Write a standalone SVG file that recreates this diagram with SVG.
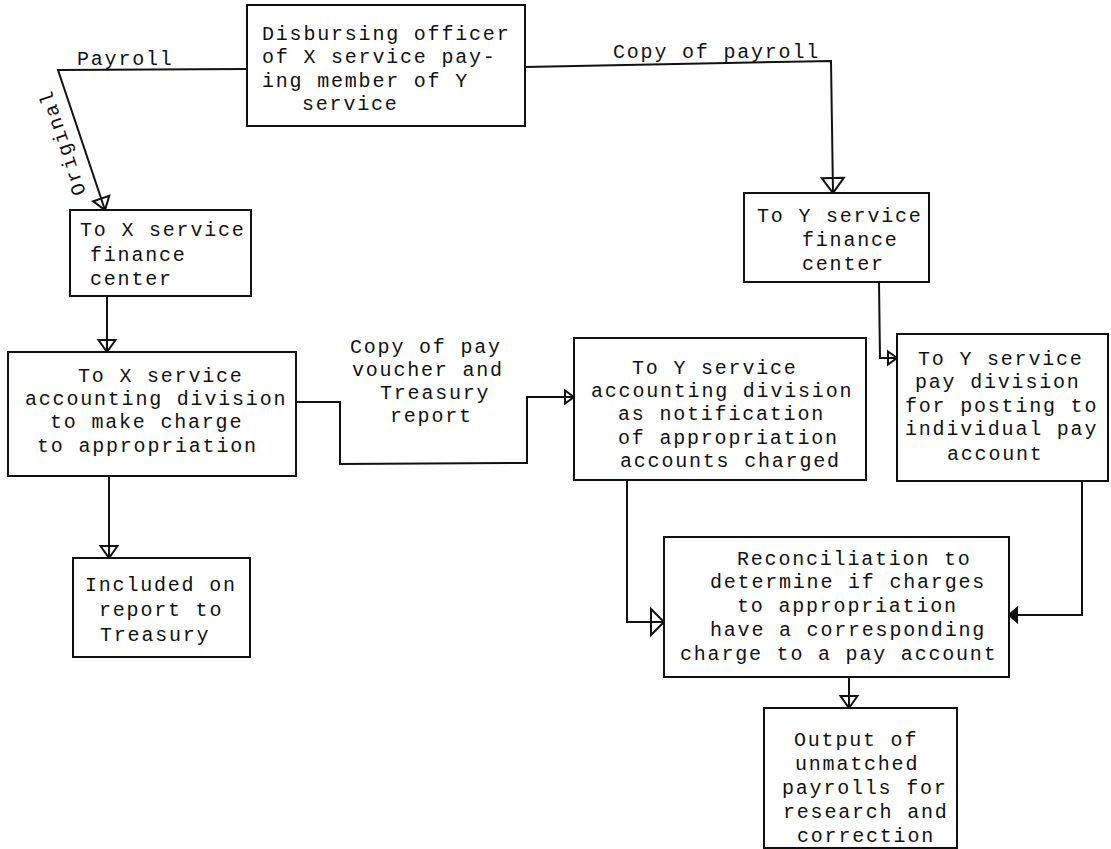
<svg xmlns="http://www.w3.org/2000/svg" width="1111" height="849" viewBox="0 0 1111 849">
<style>
.box{fill:#fff;stroke:#111;stroke-width:2}
.t{font-family:"Liberation Mono","Courier New",monospace;font-size:20px;letter-spacing:1.8px;fill:#111}
.c{fill:none;stroke:#111;stroke-width:2}
.ah{fill:none;stroke:#111;stroke-width:2;stroke-linejoin:miter}
</style>
<defs>
<marker id="mBig" markerUnits="userSpaceOnUse" markerWidth="30" markerHeight="30" refX="0" refY="0" orient="auto" style="overflow:visible"><path class="ah" d="M-15,-11 L0,0 L-15,11 Z"/></marker>
<marker id="mMed" markerUnits="userSpaceOnUse" markerWidth="30" markerHeight="30" refX="0" refY="0" orient="auto" style="overflow:visible"><path class="ah" d="M-12,-8.5 L0,0 L-12,8.5 Z"/></marker>
<marker id="mTall" markerUnits="userSpaceOnUse" markerWidth="30" markerHeight="30" refX="0" refY="0" orient="auto" style="overflow:visible"><path class="ah" d="M-13,-13 L0,0 L-13,13 Z"/></marker>
<marker id="mSmall" markerUnits="userSpaceOnUse" markerWidth="30" markerHeight="30" refX="0" refY="0" orient="auto" style="overflow:visible"><path class="ah" d="M-9,-6.5 L0,0 L-9,6.5 Z"/></marker>
<marker id="mSmallF" markerUnits="userSpaceOnUse" markerWidth="30" markerHeight="30" refX="0" refY="0" orient="auto" style="overflow:visible"><path d="M-8,-7 L0,0 L-8,7 Z" fill="#111" stroke="#111" stroke-width="2"/></marker>
</defs>
<rect width="1111" height="849" fill="#fff"/>
<g id="connectors">
<path class="c" d="M247,69 L58,70 L105,210" marker-end="url(#mMed)"/>
<path class="c" d="M525,67 L831,61 L833,193" marker-end="url(#mBig)"/>
<path class="c" d="M107,296 L107,352" marker-end="url(#mMed)"/>
<path class="c" d="M109,476 L109,558" marker-end="url(#mMed)"/>
<path class="c" d="M296,402 L340,402 L340,464 L527,463 L527,397 L574,397" marker-end="url(#mSmall)"/>
<path class="c" d="M879,282 L880,358 L897,358" marker-end="url(#mSmall)"/>
<path class="c" d="M627,480 L627,622 L664,622" marker-end="url(#mTall)"/>
<path class="c" d="M1082,481 L1082,615 L1009,615" marker-end="url(#mSmallF)"/>
<path class="c" d="M849,677 L849,708" marker-end="url(#mMed)"/>
<text class="t" x="77" y="65">Payroll</text>
<text class="t" x="613" y="58">Copy of payroll</text>
<text class="t" transform="translate(86,193) rotate(-108.5)">Original</text>
<text class="t" x="350" y="353">Copy of pay</text>
<text class="t" x="352" y="376">voucher and</text>
<text class="t" x="380" y="399">Treasury</text>
<text class="t" x="390" y="422">report</text>
</g>
<g id="disbursing">
<rect class="box" x="247" y="5" width="278" height="121"/>
<text class="t" x="262" y="40">Disbursing officer</text>
<text class="t" x="262" y="63">of X service pay-</text>
<text class="t" x="262" y="87">ing member of Y</text>
<text class="t" x="302" y="110">service</text>
</g>
<g id="x-finance">
<rect class="box" x="70" y="210" width="181" height="86"/>
<text class="t" x="80" y="236">To X service</text>
<text class="t" x="90" y="261">finance</text>
<text class="t" x="90" y="285">center</text>
</g>
<g id="y-finance">
<rect class="box" x="744" y="193" width="185" height="89"/>
<text class="t" x="757" y="222">To Y service</text>
<text class="t" x="802" y="246">finance</text>
<text class="t" x="802" y="270">center</text>
</g>
<g id="x-accounting">
<rect class="box" x="8" y="352" width="288" height="124"/>
<text class="t" x="78" y="382">To X service</text>
<text class="t" x="25" y="405">accounting division</text>
<text class="t" x="50" y="428">to make charge</text>
<text class="t" x="37" y="452">to appropriation</text>
</g>
<g id="y-accounting">
<rect class="box" x="574" y="338" width="292" height="142"/>
<text class="t" x="632" y="374">To Y service</text>
<text class="t" x="591" y="397">accounting division</text>
<text class="t" x="618" y="420">as notification</text>
<text class="t" x="618" y="444">of appropriation</text>
<text class="t" x="620" y="467">accounts charged</text>
</g>
<g id="y-pay">
<rect class="box" x="897" y="334" width="211" height="147"/>
<text class="t" x="918" y="365">To Y service</text>
<text class="t" x="915" y="388">pay division</text>
<text class="t" x="905" y="412">for posting to</text>
<text class="t" x="905" y="435">individual pay</text>
<text class="t" x="947" y="460">account</text>
</g>
<g id="included">
<rect class="box" x="73" y="558" width="177" height="99"/>
<text class="t" x="85" y="591">Included on</text>
<text class="t" x="99" y="616">report to</text>
<text class="t" x="100" y="641">Treasury</text>
</g>
<g id="reconciliation">
<rect class="box" x="664" y="537" width="345" height="140"/>
<text class="t" x="737" y="565">Reconciliation to</text>
<text class="t" x="710" y="588">determine if charges</text>
<text class="t" x="737" y="612">to appropriation</text>
<text class="t" x="710" y="636">have a corresponding</text>
<text class="t" x="680" y="660">charge to a pay account</text>
</g>
<g id="output">
<rect class="box" x="764" y="708" width="193" height="140"/>
<text class="t" x="794" y="746">Output of</text>
<text class="t" x="795" y="770">unmatched</text>
<text class="t" x="782" y="794">payrolls for</text>
<text class="t" x="783" y="818">research and</text>
<text class="t" x="797" y="842">correction</text>
</g>
</svg>
